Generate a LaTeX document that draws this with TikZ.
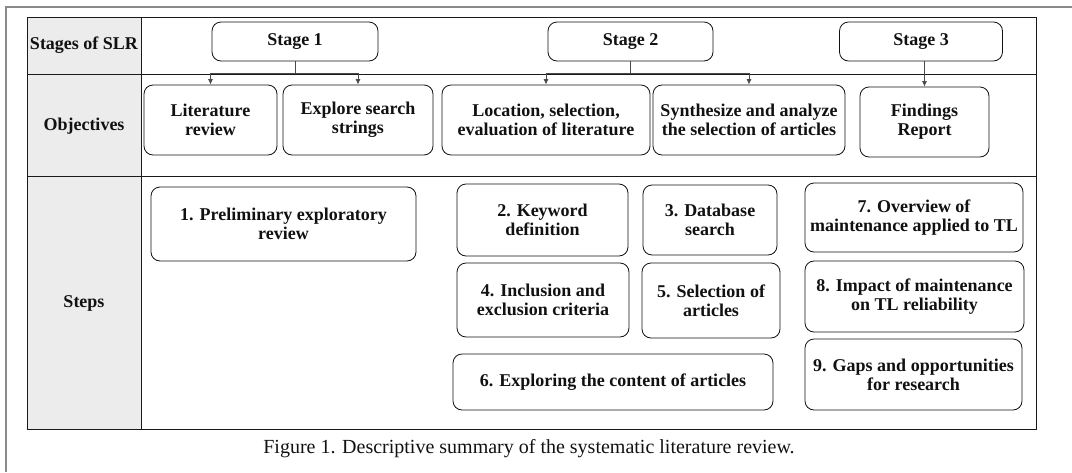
\documentclass[tikz,border=0pt]{standalone}
\usepackage{fontspec}
\setmainfont{Liberation Serif}
\usepackage{xcolor}
\usepackage{tikz}
\usetikzlibrary{calc,arrows.meta}
\definecolor{pageline}{HTML}{8A8A8A}
\definecolor{rule}{HTML}{1A1A1A}
\definecolor{headbg}{HTML}{ECECEC}
\definecolor{ink}{HTML}{111111}
\definecolor{wire}{HTML}{4A4A4A}
\tikzset{
  tabrule/.style={draw=rule, line width=0.9pt},
  box/.style={draw=ink, line width=0.8pt, rounded corners=9pt, align=center,
    inner sep=2pt, text=ink, font=\bfseries\fontsize{18}{19}\selectfont},
  head/.style={text=ink, font=\bfseries\fontsize{18}{19}\selectfont},
  conn/.style={draw=wire, line width=0.8pt},
  arr/.style={conn, -{Latex[length=5.5pt,width=5pt]}},
  captext/.style={text=ink, font=\fontsize{20}{24}\selectfont},
}
\begin{document}
\begin{tikzpicture}[x=1pt,y=-1pt]
  \useasboundingbox (0,0) rectangle (1072,472);
  % page frame
  \draw[draw=pageline, line width=1.4pt] (6,472) -- (6,7) -- (1072,7);

  % table
  \fill[headbg] (27,17) rectangle (141,429);
  \draw[tabrule] (27,17) rectangle (1036,429);
  \draw[tabrule] (141,17) -- (141,429);
  \draw[tabrule] (27,74) -- (1036,74);
  \draw[tabrule] (27,176) -- (1036,176);

  \node[head] (hstage) at (84,45) {Stages of SLR};
  \node[head] (hobj) at (84,126) {Objectives};
  \node[head] (hstep) at (84,303) {Steps};

  % stages
  \node[box, minimum width=166pt, minimum height=39pt] (s1) at (295,41.5) {Stage 1};
  \node[box, minimum width=165pt, minimum height=39pt] (s2) at (630.5,41.5) {Stage 2};
  \node[box, minimum width=163pt, minimum height=39pt] (s3) at (921,41.5) {Stage 3};

  % objectives
  \node[box, minimum width=133pt, minimum height=70pt] (o1) at (210.5,120) {Literature\\review};
  \node[box, minimum width=150pt, minimum height=70pt] (o2) at (358,120) {Explore search\\strings};
  \node[box, minimum width=208pt, minimum height=70pt] (o3) at (546,120) {Location, selection,\\evaluation of literature};
  \node[box, minimum width=192pt, minimum height=70pt] (o4) at (749,120) {Synthesize and analyze\\the selection of articles};
  \node[box, minimum width=129pt, minimum height=70pt] (o5) at (924.5,122) {Findings\\Report};

  % steps
  \node[box, minimum width=265pt, minimum height=74pt] (p1) at (283.5,224) {1. Preliminary exploratory\\review};
  \node[box, minimum width=171pt, minimum height=72pt] (p2) at (542.5,220) {2. Keyword\\definition};
  \node[box, minimum width=134pt, minimum height=70pt] (p3) at (710,220) {3. Database\\search};
  \node[box, minimum width=172pt, minimum height=74pt] (p4) at (543,300) {4. Inclusion and\\exclusion criteria};
  \node[box, minimum width=138pt, minimum height=75pt] (p5) at (711,300.5) {5. Selection of\\articles};
  \node[box, minimum width=320pt, minimum height=56pt] (p6) at (613,382) {6. Exploring the content of articles};
  \node[box, minimum width=218pt, minimum height=69pt] (p7) at (914,217.5) {7. Overview of\\maintenance applied to TL};
  \node[box, minimum width=219pt, minimum height=71pt] (p8) at (914.5,296.5) {8. Impact of maintenance\\on TL reliability};
  \node[box, minimum width=217pt, minimum height=71pt] (p9) at (913.5,374.5) {9. Gaps and opportunities\\for research};

  % stage -> objective links
  \coordinate (b1) at (295,73);
  \coordinate (b2) at (630.5,73);
  \draw[conn] (s1) -- (b1);
  \draw[arr] (b1) -| (o1);
  \draw[arr] (b1) -| (o2);
  \draw[conn] (s2) -- (b2);
  \draw[arr] (b2) -| (o3);
  \draw[arr] (b2) -| (o4);
  \draw[arr] (o5 |- s3.south) -- (o5);

  \node[captext] (caption) at (529,449) {Figure 1. Descriptive summary of the systematic literature review.};
\end{tikzpicture}
\end{document}
